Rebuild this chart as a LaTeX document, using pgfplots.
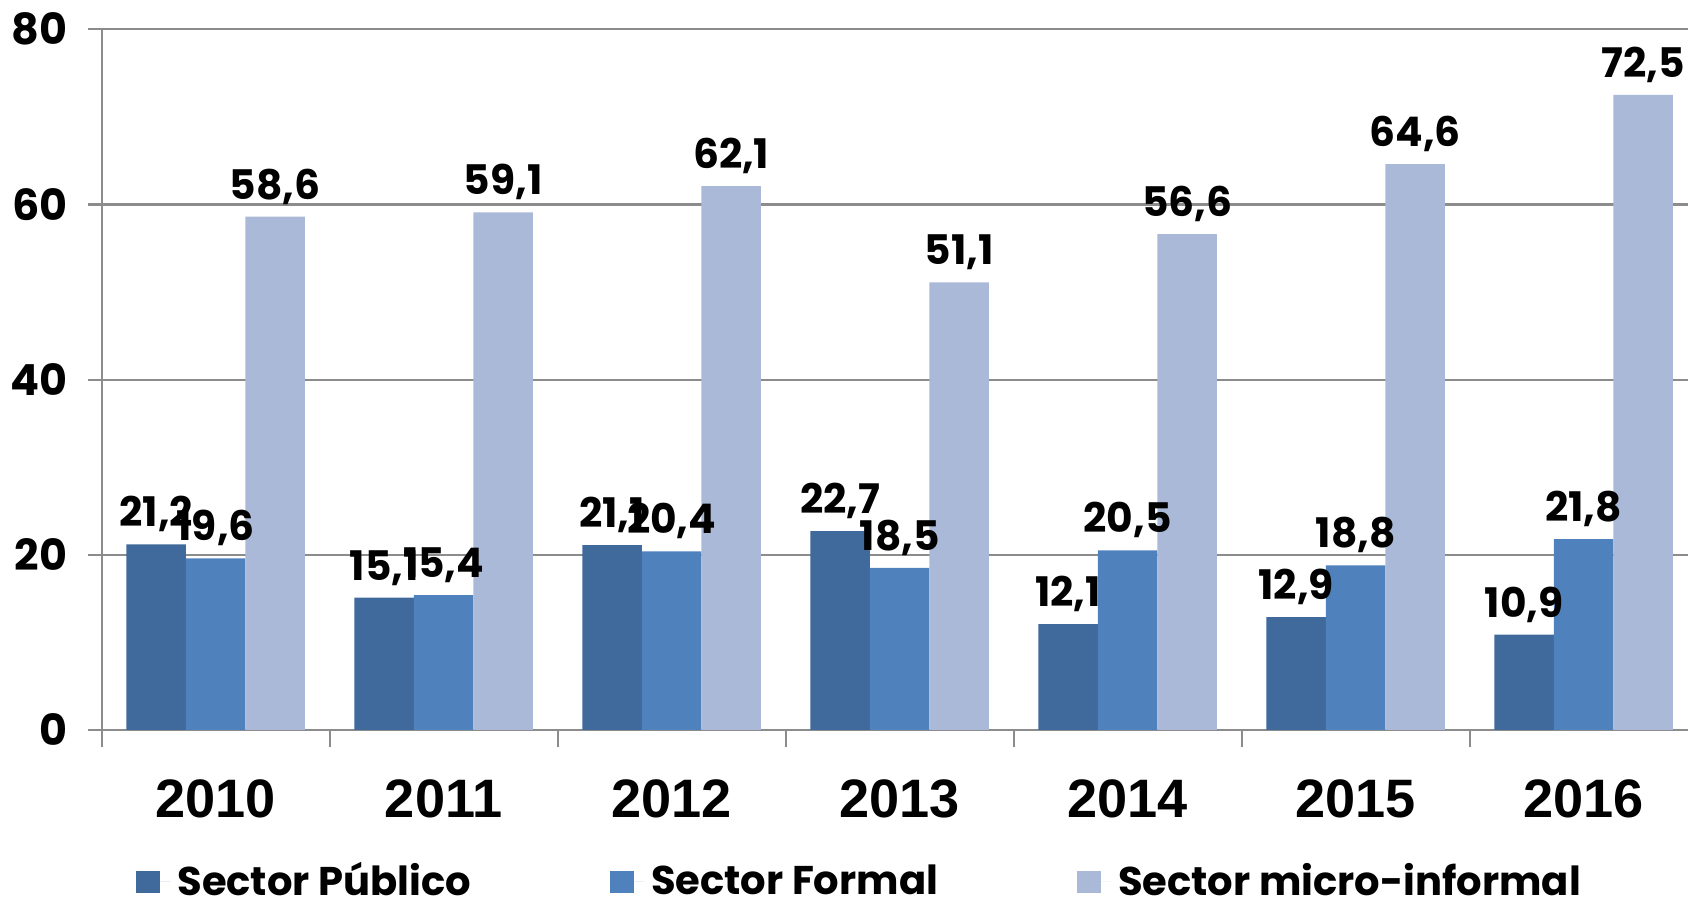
\documentclass[border=0pt]{standalone}
\usepackage{fontspec}
\setmainfont{Poppins}
\newfontfamily\arialfont{Liberation Sans}
\usepackage{pgfplots}
\pgfplotsset{compat=1.18}
\definecolor{cPub}{HTML}{3F6A9B}
\definecolor{cFor}{HTML}{4F81BD}
\definecolor{cMic}{HTML}{AAB9D7}
\definecolor{cGrid}{HTML}{8C8C8C}
\begin{document}
\begin{tikzpicture}
\useasboundingbox (0,0) rectangle (168.8mm,90.4mm);
\clip (0,0) rectangle (168.8mm,90.4mm);
\begin{axis}[
  scale only axis, width=159.59mm, height=70.07mm,
  at={(10.17mm,17.4mm)}, anchor=south west,
  xmin=-0.5, xmax=6.5, ymin=0, ymax=80,
  ybar=0pt, bar width=5.95mm,
  axis x line*=bottom, axis y line*=left,
  axis line style={-, draw=cGrid, line width=0.6pt},
  ytick={0,20,40,60,80},
  ymajorgrids, grid style={cGrid, line width=0.6pt},
  xtick={0,1,2,3,4,5,6},
  xticklabels={2010,2011,2012,2013,2014,2015,2016},
  minor xtick={-0.5,0.5,1.5,2.5,3.5,4.5,5.5,6.5},
  tick align=outside,
  major tick length=1.4mm, minor tick length=1.7mm,
  major x tick style={draw=none},
  tick style={draw=cGrid, line width=0.6pt},
  /pgf/number format/assume math mode=true,
  yticklabel style={font=\bfseries\fontsize{12.2}{14}\selectfont, text=black, xshift=-0.8mm},
  xticklabel style={font=\arialfont\bfseries\fontsize{15.4}{18}\selectfont, text=black, yshift=-2.3mm},
  nodes near coords={\pgfmathprintnumber[fixed,fixed zerofill,precision=1,use comma]{\pgfplotspointmeta}},
  every node near coord/.append style={font=\bfseries\fontsize{11.6}{13}\selectfont, text=black, anchor=base, inner sep=0pt, yshift=1.75mm},
  legend style={at={(axis description cs:0.4765,-0.2169)}, anchor=center, draw=none, fill=none,
    legend columns=3, font=\bfseries\fontsize{11.4}{14}\selectfont,
    /tikz/every even column/.append style={column sep=13.2mm}},
]
\addplot[fill=cPub, draw=none, legend image code/.code={\path (0mm,0mm) -- (3.4mm,0mm); \fill[cPub] (0mm,-1.1mm) rectangle (2.4mm,1.1mm);}] coordinates {(0,21.2) (1,15.1) (2,21.1) (3,22.7) (4,12.1) (5,12.9) (6,10.9)};
\addlegendentry{Sector Público}
\addplot[fill=cFor, draw=none, legend image code/.code={\path (0mm,0mm) -- (3.4mm,0mm); \fill[cFor] (0mm,-1.1mm) rectangle (2.4mm,1.1mm);}] coordinates {(0,19.6) (1,15.4) (2,20.4) (3,18.5) (4,20.5) (5,18.8) (6,21.8)};
\addlegendentry{Sector Formal}
\addplot[fill=cMic, draw=none, legend image code/.code={\path (0mm,0mm) -- (3.4mm,0mm); \fill[cMic] (0mm,-1.1mm) rectangle (2.4mm,1.1mm);}] coordinates {(0,58.6) (1,59.1) (2,62.1) (3,51.1) (4,56.6) (5,64.6) (6,72.5)};
\addlegendentry{Sector micro-informal}
\end{axis}
\end{tikzpicture}
\end{document}
